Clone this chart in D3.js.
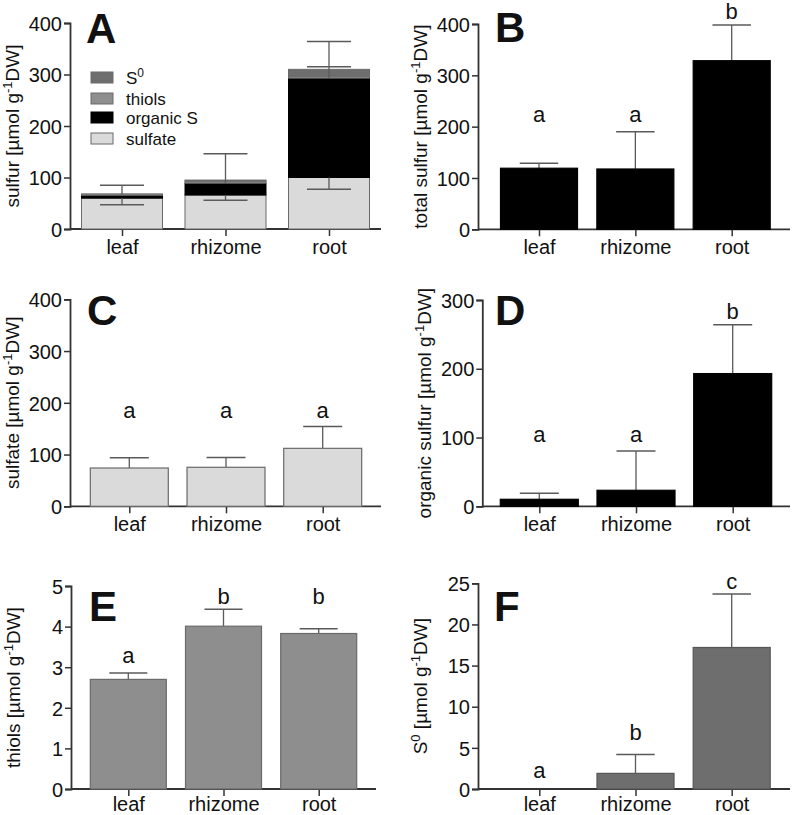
<!DOCTYPE html>
<html><head><meta charset="utf-8">
<script src="https://cdn.jsdelivr.net/npm/d3@7"></script>
<style>
html,body{margin:0;padding:0;background:#fff;}
text{font-family:"Liberation Sans",Arial,sans-serif;fill:#111;}
</style></head>
<body>
<svg id="chart" width="792" height="815"></svg>
<script>
// ---------- DATA ----------
const categories = ["leaf", "rhizome", "root"];

// Panel A (stacked composition)
const aSulfate  = [60, 66, 100];
const aOrganic  = [5.5, 23, 193];
const aThiols   = [2.7, 4, 4];
const aS0       = [0, 2, 13];
const aErrLow   = [47, 56, 77];
const aErrHigh  = [85, 146, 364];
const aErrMid   = [null, null, 315];
const aLegend   = ["S0", "thiols", "organic S", "sulfate"];

// Panel B
const totalSulfur     = [119, 117.5, 328.5];
const totalSulfurErr  = [128.6, 190, 398];
const totalSulfurSig  = ["a", "a", "b"];
const totalSulfurSigY = [209, 209, 410];

// Panel C
const sulfate     = [74, 75.4, 112];
const sulfateErr  = [94, 94.5, 154];
const sulfateSig  = ["a", "a", "a"];
const sulfateSigY = [170, 170, 170];

// Panel D
const organicSulfur     = [10.2, 23.3, 193];
const organicSulfurErr  = [19, 80.4, 264];
const organicSulfurSig  = ["a", "a", "b"];
const organicSulfurSigY = [94, 94, 272];

// Panel E
const thiols     = [2.70, 4.01, 3.83];
const thiolsErr  = [2.86, 4.43, 3.95];
const thiolsSig  = ["a", "b", "b"];
const thiolsSigY = [3.10, 4.55, 4.55];

// Panel F
const s0     = [0, 1.9, 17.2];
const s0Err  = [0, 4.2, 23.7];
const s0Sig  = ["a", "b", "c"];
const s0SigY = [1.3, 5.96, 24.3];

const ticks400 = [0, 100, 200, 300, 400];
const ticks300 = [0, 100, 200, 300];
const ticks5   = [0, 1, 2, 3, 4, 5];
const ticks25  = [0, 5, 10, 15, 20, 25];

// ---------- STYLE ----------
const C_SULF = "#dadada", C_THIOL = "#8e8e8e", C_S0 = "#6e6e6e", C_ORG = "#000000";
const AXIS = "#333", ERR = "#5a5a5a", BSTROKE = "#6a6a6a";

const svg = d3.select("#chart");

function panel(cfg) {
  const g = svg.append("g");
  const y = d3.scaleLinear().domain([0, cfg.max]).range([cfg.y0, cfg.y1]);
  const x = d3.scalePoint().domain(categories).range([cfg.c0, cfg.c1]);
  const ya = d3.axisLeft(y).tickValues(cfg.ticks).tickSize(6).tickPadding(2).tickFormat(d3.format("d"));
  const yg = g.append("g").attr("transform", `translate(${cfg.ax},0)`).call(ya);
  const xa = d3.axisBottom(x).tickSize(7).tickPadding(cfg.xpad == null ? 3 : cfg.xpad).tickFormat(d => d);
  const xg = g.append("g").attr("transform", `translate(0,${cfg.y0})`).call(xa);
  xg.select(".domain").attr("d", `M${cfg.ax},0H${cfg.xe}`);
  [yg, xg].forEach(s => {
    s.select(".domain").attr("stroke", AXIS).attr("stroke-width", 1.8);
    s.selectAll(".tick line").attr("stroke", AXIS).attr("stroke-width", 1.5);
    s.selectAll(".tick text").attr("font-size", 20).attr("fill", "#111")
      .attr("font-family", '"Liberation Sans", Arial, sans-serif');
  });
  xg.selectAll(".tick text").attr("dy", "0.75em");
  yg.selectAll(".tick text").attr("dy", "0.36em");
  const lbl = g.append("text")
    .attr("transform", `translate(${cfg.ax - 51},${(cfg.y0 + cfg.y1) / 2}) rotate(-90)`)
    .attr("text-anchor", "middle").attr("font-size", 19);
  cfg.label(lbl);
  g.append("text").attr("x", cfg.lx).attr("y", cfg.ly).attr("font-size", 42)
    .attr("font-weight", "bold").text(cfg.letter);
  return {g, x, y};
}

function unitLabel(sel, prefix, supPrefix) {
  if (supPrefix) {
    sel.append("tspan").text("S");
    sel.append("tspan").attr("font-size", 13).attr("dy", -7).text("0");
    sel.append("tspan").attr("dy", 7).text(" [µmol g");
  } else {
    sel.append("tspan").text(prefix + " [µmol g");
  }
  sel.append("tspan").attr("font-size", 13).attr("dy", -7).text("-1");
  sel.append("tspan").attr("dy", 7).text("DW]");
}

function simpleBars(p, vals, errs, sig, sigY, bw, fill, stroke) {
  const {g, x, y} = p;
  const cap = bw / 2;
  categories.forEach((c, i) => {
    const cx = x(c);
    if (vals[i] > 0) {
      g.append("line").attr("x1", cx).attr("x2", cx).attr("y1", y(vals[i])).attr("y2", y(errs[i]))
        .attr("stroke", ERR).attr("stroke-width", 1.3);
      g.append("line").attr("x1", cx - cap / 2).attr("x2", cx + cap / 2).attr("y1", y(errs[i])).attr("y2", y(errs[i]))
        .attr("stroke", ERR).attr("stroke-width", 1.5);
      g.append("rect").attr("x", cx - bw / 2).attr("width", bw)
        .attr("y", y(vals[i])).attr("height", y(0) - y(vals[i]))
        .attr("fill", fill).attr("stroke", stroke).attr("stroke-width", 1.2);
    }
    g.append("text").attr("x", cx).attr("y", y(sigY[i])).attr("text-anchor", "middle")
      .attr("font-size", 22).text(sig[i]);
  });
}

// ---------- Panel A ----------
const pA = panel({max: 400, y0: 229, y1: 23, ax: 70, xe: 381, c0: 122, c1: 329, ticks: ticks400,
  lx: 86, ly: 43, letter: "A", label: s => unitLabel(s, "sulfur")});
(function () {
  const {g, x, y} = pA;
  const bw = 81, cap = 44;
  categories.forEach((c, i) => {
    const cx = x(c);
    const t1 = aSulfate[i], t2 = t1 + aOrganic[i], t3 = t2 + aThiols[i], t4 = t3 + aS0[i];
    const segs = [
      [0, t1, C_SULF, BSTROKE],
      [t1, t2, C_ORG, "#000"],
      [t2, t3, C_THIOL, BSTROKE],
      [t3, t4, C_S0, BSTROKE]
    ];
    segs.forEach(([a, b, f, s]) => {
      if (b - a <= 0) return;
      g.append("rect").attr("x", cx - bw / 2).attr("width", bw).attr("y", y(b)).attr("height", y(a) - y(b))
        .attr("fill", f).attr("stroke", s).attr("stroke-width", 1);
    });
    g.append("line").attr("x1", cx).attr("x2", cx).attr("y1", y(aErrLow[i])).attr("y2", y(t1))
      .attr("stroke", ERR).attr("stroke-width", 1.3);
    g.append("line").attr("x1", cx).attr("x2", cx).attr("y1", y(t2)).attr("y2", y(aErrHigh[i]))
      .attr("stroke", ERR).attr("stroke-width", 1.3);
    [aErrLow[i], aErrHigh[i], aErrMid[i]].forEach(v => {
      if (v == null) return;
      g.append("line").attr("x1", cx - cap / 2).attr("x2", cx + cap / 2).attr("y1", y(v)).attr("y2", y(v))
        .attr("stroke", ERR).attr("stroke-width", 1.5);
    });
  });
  const lcol = [C_S0, C_THIOL, C_ORG, C_SULF];
  const ly = [77.5, 98.5, 117.5, 138.5];
  aLegend.forEach((t, i) => {
    g.append("rect").attr("x", 91).attr("y", ly[i] - 5.5).attr("width", 22).attr("height", 11)
      .attr("fill", lcol[i]).attr("stroke", i === 2 ? "#000" : BSTROKE).attr("stroke-width", 1);
    const tx = g.append("text").attr("x", 126).attr("y", ly[i] + 6).attr("font-size", 17);
    if (t === "S0") {
      tx.append("tspan").text("S");
      tx.append("tspan").attr("font-size", 12).attr("dy", -7).text("0");
    } else tx.text(t);
  });
})();

// ---------- Panel B ----------
const pB = panel({max: 400, y0: 229.3, y1: 24, ax: 478, xe: 790, c0: 539, c1: 731.7, ticks: ticks400,
  lx: 495, ly: 42, letter: "B", label: s => unitLabel(s, "total sulfur")});
simpleBars(pB, totalSulfur, totalSulfurErr, totalSulfurSig, totalSulfurSigY, 77, C_ORG, "#000");

// ---------- Panel C ----------
const pC = panel({max: 400, y0: 506.3, y1: 299.3, ax: 70, xe: 381, c0: 129.3, c1: 322.7, ticks: ticks400,
  lx: 87, ly: 325, letter: "C", label: s => unitLabel(s, "sulfate")});
simpleBars(pC, sulfate, sulfateErr, sulfateSig, sulfateSigY, 78, C_SULF, BSTROKE);

// ---------- Panel D ----------
const pD = panel({max: 300, y0: 506.3, y1: 300, ax: 482.3, xe: 790, c0: 539.3, c1: 732.7, ticks: ticks300,
  lx: 495, ly: 325, letter: "D", label: s => unitLabel(s, "organic sulfur")});
simpleBars(pD, organicSulfur, organicSulfurErr, organicSulfurSig, organicSulfurSigY, 78, C_ORG, "#000");

// ---------- Panel E ----------
const pE = panel({max: 5, y0: 789, y1: 586, ax: 71, xe: 376, c0: 128.3, c1: 318.7, ticks: ticks5, xpad: 0,
  lx: 89, ly: 621, letter: "E", label: s => unitLabel(s, "thiols")});
simpleBars(pE, thiols, thiolsErr, thiolsSig, thiolsSigY, 76, C_THIOL, BSTROKE);

// ---------- Panel F ----------
const pF = panel({max: 25, y0: 789, y1: 583.3, ax: 478, xe: 790, c0: 539.3, c1: 731.7, ticks: ticks25, xpad: 0,
  lx: 494, ly: 621, letter: "F", label: s => unitLabel(s, "", true)});
simpleBars(pF, s0, s0Err, s0Sig, s0SigY, 77, C_S0, "#555");
</script>
</body></html>
